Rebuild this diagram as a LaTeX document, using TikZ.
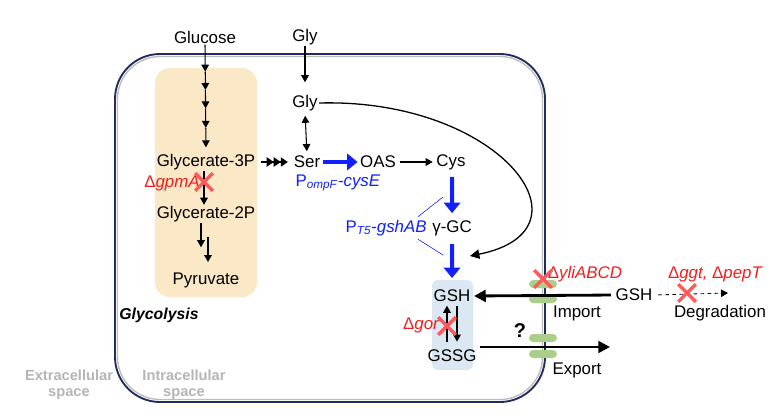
\documentclass[tikz,border=0pt]{standalone}
\usepackage{fontspec}
\setmainfont{Liberation Sans}
\usetikzlibrary{arrows.meta,calc,shapes.misc}

\definecolor{cellnavy}{HTML}{1F2D5A}
\definecolor{cellgrey}{HTML}{BDBDBD}
\definecolor{glycbox}{HTML}{FBE8C6}
\definecolor{gshbox}{HTML}{DCE7F4}
\definecolor{pillgreen}{HTML}{A9CF8A}
\definecolor{kored}{HTML}{F01E1E}
\definecolor{xred}{HTML}{FF5A5A}
\definecolor{engblue}{HTML}{1020FF}
\definecolor{spacegrey}{HTML}{B5B5B5}

\tikzset{
  lbl/.style={inner sep=1pt, font=\fontsize{14.4}{16}\selectfont},
  kolbl/.style={lbl, text=kored, font=\fontsize{14.4}{16}\selectfont\itshape},
  englbl/.style={lbl, text=engblue, font=\fontsize{14.4}{16}\selectfont},
  spacelbl/.style={inner sep=1pt, text=spacegrey, align=center,
    font=\fontsize{12.5}{14}\selectfont\bfseries},
  arr/.style={-{Triangle[length=6pt,width=6.5pt]}, line width=0.9pt},
  bigarr/.style={-{Triangle[length=9pt,width=14pt]}, line width=3.4pt, engblue},
  transarr/.style={-{Triangle[length=10pt,width=10pt]}, line width=2.4pt},
  knock/.style={cross out, draw=xred, line width=3pt, minimum size=0.42cm, inner sep=0pt},
  pill/.style={rectangle, rounded corners=3.5pt, fill=pillgreen, minimum width=0.84cm,
    minimum height=0.24cm, inner sep=0pt}
}

\begin{document}
\begin{tikzpicture}[x=0.03cm, y=-0.03cm]
        \useasboundingbox (0,0) rectangle (771,414);
        % cell and compartments
        \draw [cellnavy, line width=1.6pt, rounded corners=1.35cm] (115,54) rectangle (545,402);
        \draw [cellgrey, line width=1.2pt, rounded corners=1.28cm] (117.5,56.5) rectangle (542.5,399.5);
        \fill [glycbox, rounded corners=0.45cm] (155,68) rectangle (257,297);
        \fill [gshbox, rounded corners=0.18cm] (432,280) rectangle (473,370);
        % metabolites
        \node [lbl] (glc) at (205,37) {Glucose};
        \node [lbl] (glyout) at (305,37) {Gly};
        \node [lbl] (glyin) at (305,103) {Gly};
        \node [lbl] (g3p) at (206,162) {Glycerate-3P};
        \node [lbl] (ser) at (307,162) {Ser};
        \node [lbl] (oas) at (378,162) {OAS};
        \node [lbl] (cys) at (451,162) {Cys};
        \node [lbl] (g2p) at (206,214) {Glycerate-2P};
        \node [lbl] (pyr) at (206,280) {Pyruvate};
        \node [lbl, anchor=west] (ggc) at (431,228) {γ-GC};
        \node [lbl] (gsh) at (452,296) {GSH};
        \node [lbl] (gssg) at (452,356) {GSSG};
        \node [lbl] (gshout) at (634,295) {GSH};
        \node [lbl] (imp) at (577,313) {Import};
        \node [lbl] (exp) at (577,370) {Export};
        \node [lbl] (degr) at (720,313) {Degradation};
        \node [lbl, font=\fontsize{17}{18}\selectfont\bfseries] (quest) at (520,331) {?};
        \node [lbl, font=\fontsize{13.5}{16}\selectfont\bfseries\itshape] (glyco) at (159,315) {Glycolysis};
        % engineering and knockouts
        \node [englbl] (cysE) at (338,183) {P\textsubscript{\textit{ompF}}-\textit{cysE}};
        \node [englbl, anchor=east] (gshAB) at (428,228) {P\textsubscript{\textit{T5}}-\textit{gshAB}};
        \node [kolbl] (gpmA) at (172,183) {\upshape Δ\itshape gpmA};
        \node [kolbl] (gor) at (421,325) {\upshape Δ\itshape gor};
        \node [kolbl] (yli) at (585,274) {\upshape Δ\itshape yliABCD};
        \node [kolbl] (ggt) at (715,274) {\upshape Δ\itshape ggt, \upshape Δ\itshape pepT};
        % spaces
        \node [spacelbl] (extra) at (69,385) {Extracellular\\space};
        \node [spacelbl] (intra) at (184,385) {Intracellular\\space};
        % glycolysis steps
        \foreach \a/\b in {0/0.25,0.25/0.42,0.42/0.59,0.59/0.77,0.77/0.95}
          \draw [arr] ($(glc.south)!\a!(g3p.north)$) -- ($(glc.south)!\b!(g3p.north)$);
        \draw [arr] ($(g3p.south)+(-2,0)$) -- ($(g2p.north)+(-2,0)$);
        \draw [arr] ($(g2p.south)+(-5,0)$) -- ($(g2p.south)+(-5,24)$);
        \draw [arr] ($(g2p.south)+(2,14)$) -- ($(pyr.north)+(2,-9)$);
        \draw [-{Triangle[length=6pt,width=8pt]Triangle[length=6pt,width=8pt]Triangle[length=6pt,width=8pt]},
          line width=1pt, shorten >=4pt, shorten <=4pt] (g3p.east) -- (ser.west);
        % serine and cysteine
        \draw [arr] (glyout.south) -- ++(0,36);
        \draw [arr, <->, >={Triangle[length=6pt,width=6.5pt]}, shorten <=3pt, shorten >=3pt] (glyin.south) -- (ser.north);
        \draw [bigarr, shorten <=1pt, shorten >=1pt] (ser.east) -- (oas.west);
        \draw [arr, shorten <=2pt, shorten >=2pt] (oas.east) -- (cys.west);
        \draw [bigarr, shorten <=5pt, shorten >=5pt] ($(cys.south)+(1,0)$) -- (ggc.north);
        \draw [bigarr, shorten <=6pt, shorten >=9pt] (ggc.south) -- (gsh.north);
        \draw [engblue, line width=0.5pt] ($(gshAB.north east)+(-10,-2)$) -- (443,197);
        \draw [engblue, line width=0.5pt] ($(gshAB.south east)+(-10,2)$) -- (443,255);
        \draw [arr, -{Triangle[length=8pt,width=8pt]}, line width=1.1pt] (glyin.east) .. controls (500,98) and (600,230) .. (470,256);
        % GSH redox
        \draw [arr, shorten <=6pt, shorten >=2pt] ($(gssg.north)+(-5,0)$) -- ($(gsh.south)+(-5,0)$);
        \draw [arr, shorten <=2pt, shorten >=6pt] ($(gsh.south)+(5,0)$) -- ($(gssg.north)+(5,0)$);
        % transporters
        \node [pill] (p1) at (543,284) {};
        \node [pill] (p2) at (543,299) {};
        \node [pill] (p3) at (543,338) {};
        \node [pill] (p4) at (543,354) {};
        \coordinate (expend) at (610,347);
        \coordinate (degend) at (728,293);
        \draw [transarr, shorten <=3pt, shorten >=2pt] (gshout.west) -- (gsh.east);
        \draw [transarr, shorten <=2pt] (gssg.east |- expend) -- (expend);
        \draw [arr, dashed, line width=0.7pt, shorten <=4pt] (gshout.east) -- (degend);
        % knockout crosses
        \node [knock] (xgpmA) at (204,182) {};
        \node [knock] (xgor) at (447,326) {};
        \node [knock] (xyli) at (543,279) {};
        \node [knock] (xggt) at (687,293) {};
\end{tikzpicture}
\end{document}
